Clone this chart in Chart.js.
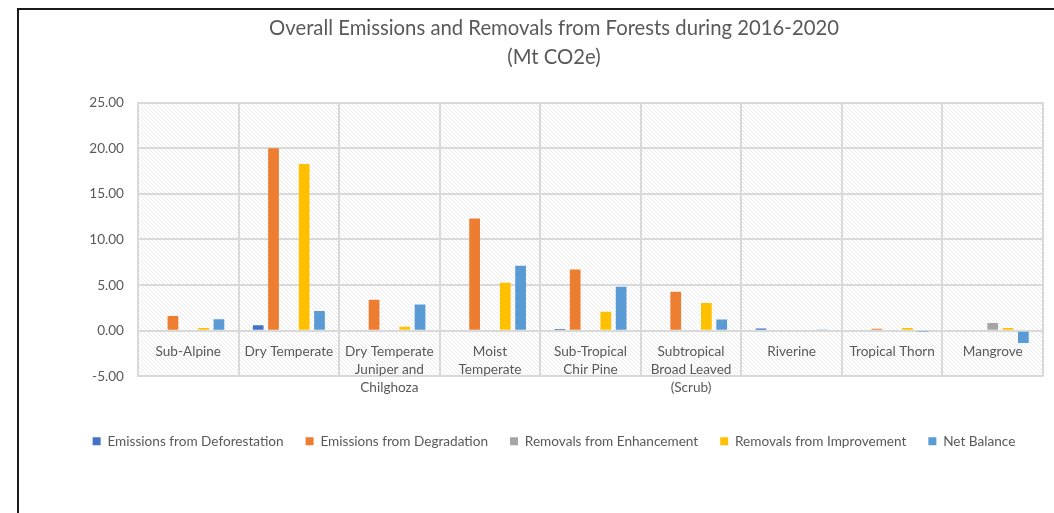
<!DOCTYPE html>
<html>
<head>
  <title>Overall Emissions and Removals from Forests</title>
  <style>
    body {
      margin: 0;
      background: #fff;
      overflow: hidden;
    }
    #wrap {
      position: relative;
      width: 1054px;
      height: 513px;
    }
    #frame {
      position: absolute;
      left: 17px;
      top: 8px;
      width: 1100px;
      height: 600px;
      border-left: 2px solid #1a1a1a;
      border-top: 2px solid #1a1a1a;
      pointer-events: none;
    }
  </style>
</head>
<body>
  <div id="wrap">
    <canvas id="chart" width="1054" height="513"></canvas>
    <div id="frame"></div>
  </div>

  <script src="https://cdn.jsdelivr.net/npm/chart.js"></script>
  <script>
    const forestTypes = [
      "Sub-Alpine",
      "Dry Temperate",
      ["Dry Temperate", "Juniper and", "Chilghoza"],
      ["Moist", "Temperate"],
      ["Sub-Tropical", "Chir Pine"],
      ["Subtropical", "Broad Leaved", "(Scrub)"],
      "Riverine",
      "Tropical Thorn",
      "Mangrove"
    ];

    const deforestation = [0.00, 0.60, 0.00, 0.11, 0.18, 0.10, 0.26, 0.00, 0.00];
    const degradation   = [1.62, 20.00, 3.40, 12.30, 6.72, 4.26, 0.10, 0.22, 0.00];
    const enhancement   = [0.00, 0.10, 0.00, 0.00, 0.00, 0.00, 0.10, 0.00, 0.85];
    const improvement   = [0.30, 18.28, 0.45, 5.25, 2.09, 3.05, 0.00, 0.30, 0.30];
    const netBalance    = [1.25, 2.17, 2.88, 7.12, 4.81, 1.22, 0.15, -0.05, -1.35];

    const yTicks = [-5, 0, 5, 10, 15, 20, 25];

    const textGray = '#595959';
    const gridGray = '#d9d9d9';
    const fontFamily = 'Lato, "Open Sans", sans-serif';

    // light diagonal hatch for the plot area (like the Excel pattern fill)
    const tile = document.createElement('canvas');
    tile.width = 4;
    tile.height = 4;
    const tctx = tile.getContext('2d');
    tctx.fillStyle = '#ffffff';
    tctx.fillRect(0, 0, 4, 4);
    tctx.strokeStyle = '#ebebeb';
    tctx.lineWidth = 1;
    tctx.beginPath();
    tctx.moveTo(-1, -1);
    tctx.lineTo(5, 5);
    tctx.stroke();

    const hatchPlugin = {
      id: 'hatch',
      beforeDraw(chart) {
        const { ctx, chartArea } = chart;
        ctx.save();
        ctx.fillStyle = ctx.createPattern(tile, 'repeat');
        ctx.fillRect(chartArea.left, chartArea.top,
          chartArea.right - chartArea.left, chartArea.bottom - chartArea.top);
        ctx.restore();
      }
    };

    const ctx = document.getElementById('chart').getContext('2d');
    new Chart(ctx, {
      type: 'bar',
      data: {
        labels: forestTypes,
        datasets: [
          { label: 'Emissions from Deforestation', data: deforestation, backgroundColor: '#4472C4' },
          { label: 'Emissions from Degradation', data: degradation, backgroundColor: '#ED7D31' },
          { label: 'Removals from Enhancement', data: enhancement, backgroundColor: '#A5A5A5' },
          { label: 'Removals from Improvement', data: improvement, backgroundColor: '#FFC000' },
          { label: 'Net Balance', data: netBalance, backgroundColor: '#5B9BD5' }
        ]
      },
      options: {
        responsive: false,
        animation: false,
        categoryPercentage: 0.762,
        barPercentage: 0.70,
        layout: {
          padding: { left: 65, right: 11, top: 0, bottom: 55 }
        },
        plugins: {
          title: {
            display: true,
            text: ['Overall Emissions and Removals from Forests during 2016-2020', '(Mt CO2e)'],
            color: textGray,
            font: { family: fontFamily, size: 20.3, weight: 'normal', lineHeight: 1.43 },
            padding: { top: 13.5, bottom: 31 }
          },
          legend: {
            position: 'bottom',
            // empty legend title only opens the gap under the category labels
            title: {
              display: true,
              text: ' ',
              font: { size: 1, lineHeight: 1 },
              padding: { top: 0, bottom: 35 }
            },
            labels: {
              color: textGray,
              font: { family: fontFamily, size: 13.6 },
              boxWidth: 8,
              boxHeight: 8,
              padding: 22
            }
          },
          tooltip: { enabled: false }
        },
        scales: {
          x: {
            position: { y: 0 },
            grid: { color: gridGray, lineWidth: 2, offset: true, drawTicks: false },
            border: { color: gridGray, width: 2 },
            ticks: {
              color: textGray,
              font: { family: fontFamily, size: 13.6, lineHeight: 1.33 },
              padding: 12,
              maxRotation: 0,
              autoSkip: false
            }
          },
          y: {
            min: -5,
            max: 25,
            afterFit(scale) { scale.width = 73; },
            afterBuildTicks(scale) { scale.ticks = yTicks.map(v => ({ value: v })); },
            grid: { color: gridGray, lineWidth: 2, drawTicks: false },
            border: { color: gridGray, width: 2 },
            ticks: {
              color: textGray,
              font: { family: fontFamily, size: 13.6 },
              padding: 14,
              callback: v => v.toFixed(2)
            }
          }
        }
      },
      plugins: [hatchPlugin]
    });
  </script>
</body>
</html>
